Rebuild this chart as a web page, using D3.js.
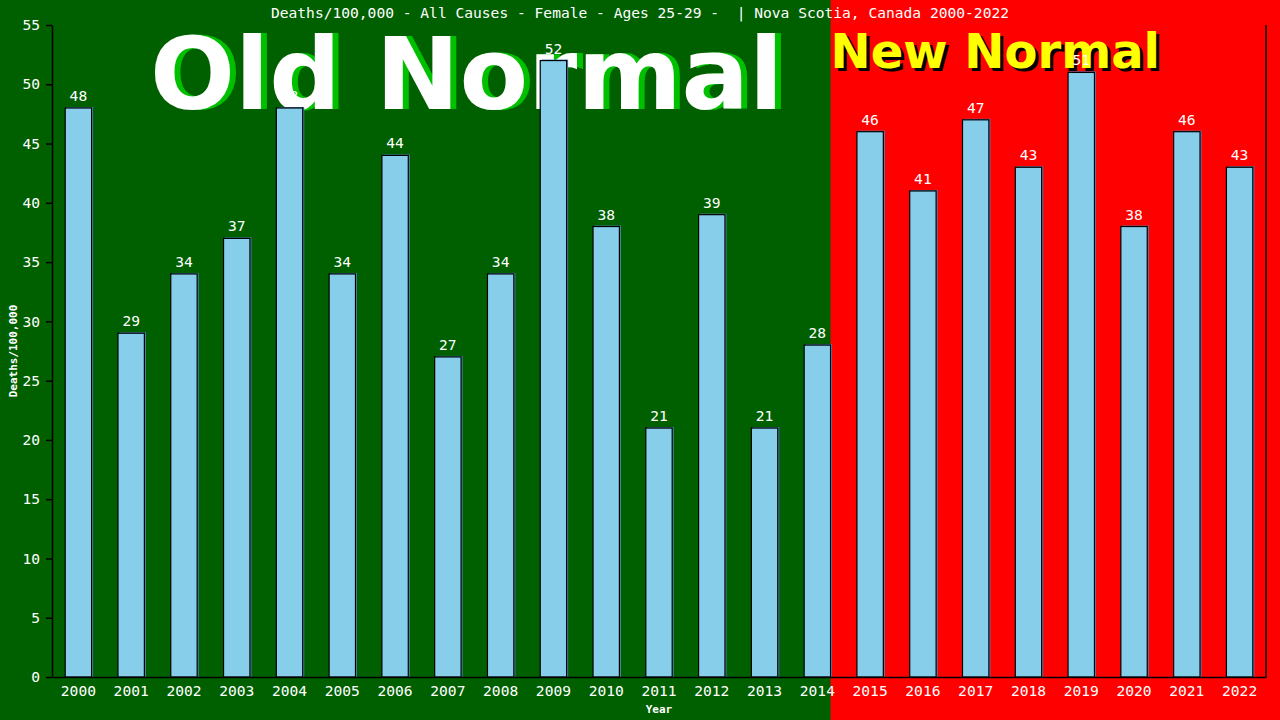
<!DOCTYPE html>
<html>
<head>
<meta charset="utf-8">
<script src="https://cdnjs.cloudflare.com/ajax/libs/d3/7.8.5/d3.min.js"></script>
<style>
  html, body { margin: 0; padding: 0; background: #006000; }
  svg { display: block; }
</style>
</head>
<body>
<div id="chart"></div>
<script>
// ── Data ───────────────────────────────────────────────────────────────────────
const years  = ["2000","2001","2002","2003","2004","2005","2006","2007","2008","2009","2010","2011",
                "2012","2013","2014","2015","2016","2017","2018","2019","2020","2021","2022"];
const deaths = [48, 29, 34, 37, 48, 34, 44, 27, 34, 52, 38, 21, 39, 21, 28, 46, 41, 47, 43, 51, 38, 46, 43];
const yTicks = [0, 5, 10, 15, 20, 25, 30, 35, 40, 45, 50, 55];
const splitYear = "2015";
const titleText = "Deaths/100,000 - All Causes - Female - Ages 25-29 -  | Nova Scotia, Canada 2000-2022";

// ── Layout ─────────────────────────────────────────────────────────────────────
const W = 1280, H = 720;
const M = { top: 25, right: 14, bottom: 43, left: 52 };
const mono = "'DejaVu Sans Mono', monospace";

const svg = d3.select("#chart").append("svg")
    .attr("width", W)
    .attr("height", H);

const x = d3.scaleBand()
    .domain(years)
    .range([M.left, W - M.right])
    .paddingInner(0.5)
    .paddingOuter(0.25);

const y = d3.scaleLinear()
    .domain([0, 55])
    .range([H - M.bottom, M.top]);

// ── Backgrounds: old normal (green) / new normal (red) ─────────────────────────
const splitX = x(years[years.indexOf(splitYear) - 1]) + x.bandwidth();

svg.append("rect")
    .attr("x", 0).attr("y", 0)
    .attr("width", splitX).attr("height", H)
    .attr("fill", "#006000");
svg.append("rect")
    .attr("x", splitX).attr("y", 0)
    .attr("width", W - splitX).attr("height", H)
    .attr("fill", "#ff0000");

// ── Big labels ─────────────────────────────────────────────────────────────────
const oldG = svg.append("g").attr("font-family", "'DejaVu Sans', sans-serif")
    .attr("font-weight", "bold").attr("font-size", 100);
oldG.append("text").attr("x", 156).attr("y", 109).attr("fill", "#00c000").text("Old Normal");
oldG.append("text").attr("x", 150).attr("y", 109).attr("fill", "#ffffff").text("Old Normal");

const newG = svg.append("g").attr("font-family", "'DejaVu Sans', sans-serif")
    .attr("font-weight", "bold").attr("font-size", 48);
newG.append("text").attr("x", splitX + 3).attr("y", 71).attr("fill", "#000000").text("New Normal");
newG.append("text").attr("x", splitX).attr("y", 68).attr("fill", "#ffff00").text("New Normal");

// ── Title ──────────────────────────────────────────────────────────────────────
svg.append("text")
    .attr("x", W / 2).attr("y", 18)
    .attr("text-anchor", "middle")
    .attr("font-family", mono).attr("font-size", 14.6)
    .attr("fill", "#ffffff")
    .style("white-space", "pre")
    .text(titleText);

// ── Bars ───────────────────────────────────────────────────────────────────────
const bars = svg.append("g");

bars.selectAll(".shadow")
    .data(deaths)
    .enter().append("rect")
    .attr("class", "shadow")
    .attr("x", (d, i) => x(years[i]) + 1.5)
    .attr("y", d => y(d) - 1)
    .attr("width", x.bandwidth())
    .attr("height", d => y(0) - y(d) + 1)
    .attr("fill", "#4f86b8");

bars.selectAll(".bar")
    .data(deaths)
    .enter().append("rect")
    .attr("class", "bar")
    .attr("x", (d, i) => x(years[i]))
    .attr("y", d => y(d))
    .attr("width", x.bandwidth())
    .attr("height", d => y(0) - y(d))
    .attr("fill", "#87ceeb")
    .attr("stroke", "#000000")
    .attr("stroke-width", 1.2);

bars.selectAll(".val")
    .data(deaths)
    .enter().append("text")
    .attr("class", "val")
    .attr("x", (d, i) => x(years[i]) + x.bandwidth() / 2)
    .attr("y", d => y(d) - 7)
    .attr("text-anchor", "middle")
    .attr("font-family", mono).attr("font-size", 14.6)
    .attr("fill", "#ffffff")
    .text(d => d);

// ── Axes ───────────────────────────────────────────────────────────────────────
const yAxis = svg.append("g")
    .attr("transform", `translate(${M.left},0)`)
    .call(d3.axisLeft(y).tickValues(yTicks).tickSize(6).tickSizeOuter(0).tickPadding(6));

const xAxis = svg.append("g")
    .attr("transform", `translate(0,${H - M.bottom})`)
    .call(d3.axisBottom(x).tickSize(0).tickPadding(9));

[yAxis, xAxis].forEach(a => {
    a.selectAll("path, line").attr("stroke", "#000000").attr("stroke-width", 1.5);
    a.selectAll("text").attr("fill", "#ffffff")
        .attr("font-family", mono).attr("font-size", 14.6);
});

// right border line
svg.append("line")
    .attr("x1", W - M.right).attr("x2", W - M.right)
    .attr("y1", M.top).attr("y2", H - M.bottom)
    .attr("stroke", "#000000").attr("stroke-width", 1.5);

// ── Axis titles ────────────────────────────────────────────────────────────────
svg.append("text")
    .attr("transform", `translate(17,${(M.top + H - M.bottom) / 2}) rotate(-90)`)
    .attr("text-anchor", "middle")
    .attr("font-family", mono).attr("font-size", 11).attr("font-weight", "bold")
    .attr("fill", "#ffffff")
    .text("Deaths/100,000");

svg.append("text")
    .attr("x", (M.left + W - M.right) / 2).attr("y", 713)
    .attr("text-anchor", "middle")
    .attr("font-family", mono).attr("font-size", 11).attr("font-weight", "bold")
    .attr("fill", "#ffffff")
    .text("Year");
</script>
</body>
</html>
